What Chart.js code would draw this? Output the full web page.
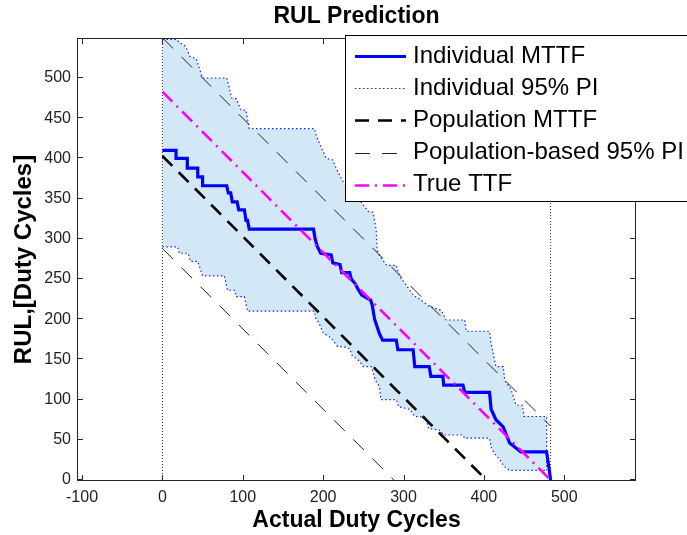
<!DOCTYPE html>
<html><head><meta charset="utf-8">
<script src="https://cdn.jsdelivr.net/npm/chart.js@4/dist/chart.umd.min.js"></script>
<style>html,body{margin:0;padding:0;background:#fff}#wrap{width:687px;height:535px}</style>
</head><body><div id="wrap"><canvas id="c" width="687" height="535"></canvas></div>
<script>
// ---------- data ----------
const chartTitle = 'RUL Prediction';
const xTicks = [-100, 0, 100, 200, 300, 400, 500];
const yTicks = [0, 50, 100, 150, 200, 250, 300, 350, 400, 450, 500];
const xLimits = [-105, 588];
const yLimits = [0, 548.5];

const indivMttfX = [0,17,17,31,31,44,44,50,50,80,82,85,87,93,95,102,104,106,108,188,190,193,197,210,212,221,223,233,235,240,243,248,255,259,261,264,268,270,274,291,293,312,314,332,334,349,350,374,376,407,409,415,424,432,436,446,478,481,483];
const indivMttfY = [410,410,400,400,388,388,377,377,366,366,357,357,346,346,336,336,323,323,312,312,300,290,282,280,270,268,258,258,250,244,238,230,226,224,218,200,188,182,174,174,162,162,141,141,129,129,118,118,109,109,88,75,66,46,43,35,35,15,0];

const indivUpperX = [0,18,20,28,30,34,42,46,50,80,83,86,92,98,104,108,189,192,197,204,212,217,224,233,240,247,256,262,266,267,268,279,291,295,300,305,312,320,332,347,353,376,378,407,409,415,424,426,434,440,448,450,478,478];
const indivUpperY = [548,548,545,540,537,527,524,512,500,500,489,475,474,460,460,437,437,427,415,400,398,386,372,365,355,346,334,333,311,290,282,267,267,253,247,240,230,225,216,211,199,199,185,185,170,141,141,124,112,93,93,79,79,12];

const indivLowerX = [0,19,21,32,35,44,50,77,81,90,92,102,106,189,191,195,200,208,212,218,225,233,236,245,250,260,265,270,272,291,294,308,314,328,331,345,350,374,376,407,409,413,420,425,432,478];
const indivLowerY = [290,290,282,282,272,272,254,254,236,236,228,228,210,210,201,195,183,178,174,166,166,163,155,148,141,141,124,116,100,100,91,88,79,78,64,62,56,56,52,52,41,33,25,17,12,12];

const popMttfX = [0, 403];
const popMttfY = [403, 0];
const popUpperX = [0, 483];
const popUpperY = [550, 67];
const popLowerX = [0, 288];
const popLowerY = [288, 0];
const trueTtfX = [0, 483];
const trueTtfY = [483, 0];
const startLineX = [0, 0];
const endLineX = [483, 483];
const markerLineY = [0, 548.5];

const legendLabels = ['Individual MTTF', 'Individual 95% PI', 'Population MTTF', 'Population-based 95% PI', 'True TTF'];
const legendDatasets = [0, 1, 3, 4, 6];

// ---------- helpers ----------
const FONT = "'Liberation Sans', Arial, Helvetica, sans-serif";
const pts = (xs, ys) => xs.map((x, i) => ({x: x, y: ys[i]}));
const BLUE = '#0000ff';
const BAND = 'rgb(210,232,246)';

const datasets = [
  {data: pts(indivMttfX, indivMttfY), borderColor: BLUE, borderWidth: 3.2, borderDash: [], order: 1},
  {data: pts(indivUpperX, indivUpperY), borderColor: 'rgb(30,30,255)', borderWidth: 1.2, borderDash: [1.5, 2.5],
   fill: 2, backgroundColor: BAND, order: 6},
  {data: pts(indivLowerX, indivLowerY), borderColor: 'rgb(30,30,255)', borderWidth: 1.2, borderDash: [1.5, 2.5], order: 7},
  {data: pts(popMttfX, popMttfY), borderColor: '#000', borderWidth: 2.6, borderDash: [14, 9], order: 3},
  {data: pts(popUpperX, popUpperY), borderColor: '#222', borderWidth: 1, borderDash: [15, 12], order: 4},
  {data: pts(popLowerX, popLowerY), borderColor: '#222', borderWidth: 1, borderDash: [15, 12], order: 5},
  {data: pts(trueTtfX, trueTtfY), borderColor: '#ff00ff', borderWidth: 2.6, borderDash: [14, 6, 2, 6], order: 0},
  {data: pts(startLineX, markerLineY), borderColor: '#333', borderWidth: 1, borderDash: [1, 2], order: 8},
  {data: pts(endLineX, markerLineY), borderColor: '#333', borderWidth: 1, borderDash: [1, 2], order: 8}
];
datasets.forEach(d => { d.pointRadius = 0; d.tension = 0; if (d.fill === undefined) d.fill = false; });

const framePlugin = {
  id: 'framePlugin',
  afterDraw(chart) {
    const {ctx, chartArea: a, scales} = chart;
    const xs = scales.x, ys = scales.y;
    ctx.save();
    // title centred over the axes
    ctx.fillStyle = '#000';
    ctx.font = 'bold 23px ' + FONT;
    ctx.textAlign = 'center';
    ctx.textBaseline = 'middle';
    ctx.fillText(chartTitle, (a.left + a.right) / 2, 17);

    ctx.strokeStyle = '#262626';
    ctx.lineWidth = 1;
    ctx.setLineDash([]);
    ctx.strokeRect(a.left - 0.5, a.top - 0.5, a.right - a.left + 1, a.bottom - a.top + 1);
    const tl = 5;
    ctx.beginPath();
    xTicks.forEach(v => {
      const p = Math.round(xs.getPixelForValue(v)) + 0.5;
      ctx.moveTo(p, a.bottom); ctx.lineTo(p, a.bottom - tl);
      ctx.moveTo(p, a.top); ctx.lineTo(p, a.top + tl);
    });
    yTicks.forEach(v => {
      const p = Math.round(ys.getPixelForValue(v)) - 0.5;
      ctx.moveTo(a.left, p); ctx.lineTo(a.left + tl, p);
      ctx.moveTo(a.right, p); ctx.lineTo(a.right - tl, p);
    });
    ctx.stroke();

    // legend
    const L = {left: 345.5, top: 35.5, right: 700, bottom: 201.5, x0: 355, x1: 406, tx: 413, y0: 56, dy: 32.2};
    ctx.fillStyle = '#fff';
    ctx.fillRect(L.left, L.top, L.right - L.left, L.bottom - L.top);
    ctx.strokeStyle = '#000';
    ctx.strokeRect(L.left, L.top, L.right - L.left, L.bottom - L.top);
    ctx.font = '24px ' + FONT;
    ctx.textBaseline = 'middle';
    ctx.textAlign = 'left';
    legendLabels.forEach((t, i) => {
      const ds = chart.data.datasets[legendDatasets[i]];
      const y = L.y0 + i * L.dy;
      ctx.save();
      ctx.strokeStyle = ds.borderColor;
      ctx.lineWidth = ds.borderWidth;
      ctx.setLineDash(ds.borderDash || []);
      ctx.beginPath();
      ctx.moveTo(L.x0, Math.round(y) + 0.5);
      ctx.lineTo(L.x1, Math.round(y) + 0.5);
      ctx.stroke();
      ctx.restore();
      ctx.fillStyle = '#000';
      ctx.fillText(t, L.tx, y);
    });
    ctx.restore();
  }
};

new Chart(document.getElementById('c').getContext('2d'), {
  type: 'line',
  data: {datasets: datasets},
  options: {
    responsive: false,
    animation: false,
    events: [],
    layout: {padding: {left: 0, right: 52, top: 39, bottom: 0}},
    plugins: {
      legend: {display: false},
      tooltip: {enabled: false},
      filler: {drawTime: 'beforeDatasetsDraw'},
      title: {display: false}
    },
    scales: {
      x: {
        type: 'linear', min: xLimits[0], max: xLimits[1],
        grid: {display: false, drawTicks: false}, border: {display: false},
        afterBuildTicks: s => { s.ticks = xTicks.map(v => ({value: v})); },
        afterFit: s => { s.height = 55; },
        ticks: {font: {family: FONT, size: 16}, color: '#222', padding: 8, maxRotation: 0, autoSkip: false,
                callback: v => String(v)},
        title: {display: true, text: 'Actual Duty Cycles', color: '#000',
                font: {family: FONT, size: 23, weight: 'bold'}, padding: {top: 0, bottom: 0.5}}
      },
      y: {
        type: 'linear', min: yLimits[0], max: yLimits[1],
        grid: {display: false, drawTicks: false}, border: {display: false},
        afterBuildTicks: s => { s.ticks = yTicks.map(v => ({value: v})); },
        afterFit: s => { s.width = 78; },
        ticks: {font: {family: FONT, size: 16}, color: '#222', padding: 7, autoSkip: false,
                callback: v => String(v)},
        title: {display: true, text: 'RUL,[Duty Cycles]', color: '#000',
                font: {family: FONT, size: 24, weight: 'bold'}, padding: {top: 9.6, bottom: 0}}
      }
    }
  },
  plugins: [framePlugin]
});
</script>
</body></html>
